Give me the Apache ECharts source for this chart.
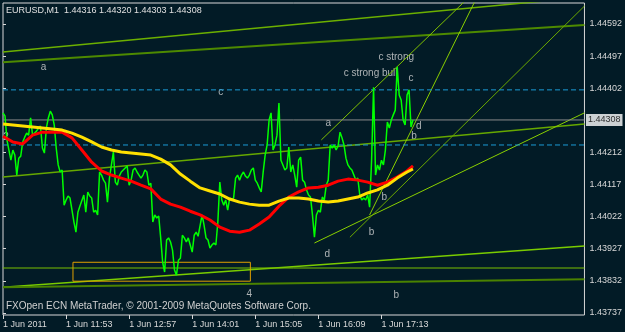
<!DOCTYPE html>
<html><head><meta charset="utf-8">
<style>html,body{margin:0;padding:0;background:#021b26;}#c{width:625px;height:332px;}</style>
<script src="https://cdn.jsdelivr.net/npm/echarts@6/dist/echarts.min.js"></script>
</head><body><div id="c"></div>
<script>
// ---------- data ----------
const symbolName = 'EURUSD,M1';
const lastBar = [1.44316, 1.44320, 1.44303, 1.44308];
const closeStepMinutes = 2;
const closes = [
1.44329,1.44320,1.44249,1.44219,1.44189,1.44219,1.44204,1.44145,1.44195,1.44201,
1.44243,1.44257,1.44269,1.44263,1.44314,1.44263,1.44269,1.44275,1.44284,1.44290,
1.44225,1.44210,1.44284,1.44314,1.44334,1.44323,1.44293,1.44225,1.44175,1.44154,
1.44160,1.44056,1.44071,1.44083,1.44077,1.44080,1.44006,1.43976,1.44035,1.44053,
1.44056,1.44086,1.44035,1.44095,1.44083,1.44077,1.44035,1.44041,1.44027,1.44154,
1.44145,1.44130,1.44121,1.44065,1.44136,1.44175,1.44213,1.44124,1.44115,1.44142,
1.44154,1.44160,1.44166,1.44172,1.44115,1.44130,1.44160,1.44166,1.44154,1.44145,
1.44136,1.44145,1.44160,1.44154,1.44115,1.44121,1.44006,1.44027,1.44018,1.44024,
1.43959,1.43887,1.43858,1.43953,1.43959,1.43947,1.43923,1.43864,1.43849,1.43893,
1.43899,1.43967,1.43959,1.43947,1.43959,1.43938,1.43917,1.43967,1.43976,1.43964,
1.43967,
1.44027,1.43997,1.43959,1.43953,1.43929,1.43938,1.43944,1.43938,1.44006,
1.44124,1.44071,1.44056,1.44071,1.44041,1.44077,1.44071,1.44077,1.44136,1.44145,
1.44130,1.44145,1.44154,1.44142,1.44136,1.44145,1.44160,1.44166,1.44130,1.44121,
1.44107,1.44095,1.44154,1.44204,1.44234,1.44308,1.44329,1.44219,1.44234,1.44263,
1.44358,1.44189,1.44175,1.44160,1.44166,1.44228,1.44154,1.44175,1.44145,1.44109,
1.44189,1.44198,1.44130,1.44124,1.44101,1.44086,1.44080,1.44027,1.43961,1.44027,
1.44041,1.44035,1.44080,1.44071,1.44115,1.44130,1.44234,1.44225,1.44234,1.44219,
1.44231,1.44272,1.44255,1.44234,1.44195,1.44175,1.44166,
1.44160,
1.44145,1.44130,1.44136,1.44086,1.44071,1.44077,1.44071,1.44086,1.44050,1.44189,
1.44405,1.44145,1.44175,1.44160,1.44189,1.44175,1.44219,1.44302,1.44284,1.44308,
1.44323,1.44337,1.44465,1.44382,1.44367,1.44308,1.44293,1.44382,1.44397,1.44287,
1.44308
];
const maTimes = [0,10,20,30,40,50,60,70,80,90,100,110,120,130,140,150,160,170,180,190,200,
  210,220,230,240,250,260,270,280,290,300,310,320,330,340,350,360,370,380,390,400,410,416];
const redMA = [1.44260,1.44243,1.44237,1.44263,1.44272,1.44272,1.44272,1.44255,1.44219,1.44183,
  1.44157,1.44145,1.44136,1.44127,1.44115,1.44104,1.44074,1.44059,1.44050,1.44038,
  1.44027,1.44012,1.43991,1.43979,1.43976,1.43982,1.44000,1.44021,1.44053,1.44080,
  1.44095,1.44107,1.44109,1.44115,1.44127,1.44133,1.44130,1.44124,1.44115,1.44124,
  1.44139,1.44157,1.44172];
const yellowMA = [1.44296,1.44293,1.44290,1.44287,1.44284,1.44281,1.44278,1.44269,1.44257,1.44243,
  1.44228,1.44219,1.44213,1.44210,1.44207,1.44204,1.44192,1.44175,1.44148,1.44127,
  1.44107,1.44098,1.44089,1.44074,1.44065,1.44059,1.44056,1.44056,1.44068,1.44077,
  1.44077,1.44074,1.44068,1.44065,1.44068,1.44074,1.44080,1.44092,1.44101,1.44115,
  1.44136,1.44154,1.44163];
const timeTicks = [0,64,128,192,256,320,384];
const timeLabels = ['1 Jun 2011','1 Jun 11:53','1 Jun 12:57','1 Jun 14:01','1 Jun 15:05','1 Jun 16:09','1 Jun 17:13'];
const priceTicks = [1.43737,1.43832,1.43927,1.44022,1.44117,1.44212,1.44402,1.44497,1.44592];
const levelPrices = [1.44397, 1.44234];
const axisStartMinute = 0;
const axisEndMinute = 590;
// [startMinute, startPrice, endMinute, endPrice]
const trendLines = [
  [0,1.44509,590,1.44671],
  [0,1.44479,590,1.44589],
  [0,1.44139,590,1.44296],
  [0,1.43813,590,1.43935],
  [0,1.43870,590,1.43870],
  [0,1.43813,590,1.43837],
  [316,1.43944,590,1.44329],
  [323,1.44249,471,1.44666],
  [372,1.44027,481,1.44672],
  [352,1.43961,590,1.44645]
];
const boxTimes = [71, 251];
const boxPrices = [1.43831, 1.43887];
const noteTexts = ['a','c','c strong bull','c strong','c','d','b','a','b','b','d','4','b','2'];
const noteTimes = [41,221,373,399,414,422,417,330,387,374,329,250,399,3];
const notePrices = [1.44465,1.44391,1.44447,1.44494,1.44432,1.44290,1.44260,1.44299,1.44080,1.43976,1.43911,1.43793,1.43790,1.44257];
const copyright = 'FXOpen ECN MetaTrader, \u00a9 2001-2009 MetaQuotes Software Corp.';

// ---------- styles ----------
const trendStyles = [
  {c:'#6cb000',w:1.5},{c:'#4d8a00',w:2},{c:'#66a800',w:1.5},{c:'#7acc00',w:1.5},{c:'#78c000',w:1},
  {c:'#4a8200',w:2},{c:'#8ad000',w:1},{c:'#7fc000',w:1},{c:'#8ad000',w:1},{c:'#6aa800',w:1}
];
const FONT = 'Liberation Sans';
const lastClose = closes[closes.length - 1];

const series = [];
trendLines.forEach((t, i) => {
  series.push({type:'line', silent:true, symbol:'none', clip:true,
    data:[[t[0],t[1]],[t[2],t[3]]],
    lineStyle:{color:trendStyles[i].c, width:trendStyles[i].w}});
});
series.push({type:'line', silent:true, symbol:'none', clip:true,
  data:[[boxTimes[0],boxPrices[0]],[boxTimes[1],boxPrices[0]],[boxTimes[1],boxPrices[1]],[boxTimes[0],boxPrices[1]],[boxTimes[0],boxPrices[0]]],
  lineStyle:{color:'#e0a000', width:1}});
levelPrices.forEach(p => {
  series.push({type:'line', silent:true, symbol:'none',
    data:[[axisStartMinute,p],[axisEndMinute,p]],
    lineStyle:{color:'#1b9bd6', width:1, type:[5,3]}});
});
series.push({type:'line', silent:true, symbol:'none',
  data:[[axisStartMinute,lastClose],[axisEndMinute,lastClose]],
  lineStyle:{color:'#8a8a8a', width:1}});
series.push({type:'line', silent:true, symbol:'none', clip:true,
  data: closes.map((c,i) => [i*closeStepMinutes, c]),
  lineStyle:{color:'#00ff00', width:1.5}});
series.push({type:'line', silent:true, symbol:'none', data: maTimes.map((t,i)=>[t, redMA[i]]),
  lineStyle:{color:'#ff0000', width:3}});
series.push({type:'line', silent:true, symbol:'none', data: maTimes.map((t,i)=>[t, yellowMA[i]]),
  lineStyle:{color:'#ffe000', width:3}});
series.push({type:'scatter', silent:true, symbolSize:1, itemStyle:{color:'rgba(0,0,0,0)'},
  data: noteTimes.map((t,i)=>[t, notePrices[i]]),
  label:{show:true, position:'inside', formatter:p=>noteTexts[p.dataIndex], color:'#d8d8d8', fontSize:10, fontFamily:FONT}});
series.push({type:'scatter', silent:true, symbolSize:1, clip:false, itemStyle:{color:'rgba(0,0,0,0)'},
  data:[[axisEndMinute, lastClose]],
  label:{show:true, position:'right', distance:1, formatter:()=>lastClose.toFixed(5),
    backgroundColor:'#ffffff', color:'#000000', fontSize:9, fontFamily:FONT, padding:[2,2,1,2]}});

const chart = echarts.init(document.getElementById('c'), null, {renderer:'canvas'});
chart.setOption({
  animation:false,
  backgroundColor:'#021b26',
  textStyle:{fontFamily:FONT},
  grid:{left:3, right:37, top:3, bottom:17, show:true, borderColor:'#d8d8d8', borderWidth:1, backgroundColor:'transparent'},
  xAxis:{type:'value', min:axisStartMinute, max:axisEndMinute,
    axisLine:{show:false}, splitLine:{show:false},
    axisTick:{show:true, customValues:timeTicks, length:4, lineStyle:{color:'#d8d8d8'}},
    axisLabel:{customValues:timeTicks, formatter:v=>timeLabels[timeTicks.indexOf(v)], align:'left', margin:5,
      color:'#d8d8d8', fontSize:9, fontFamily:FONT}},
  yAxis:{type:'value', position:'right', min:1.43731, max:1.44654, scale:true,
    axisLine:{show:false}, splitLine:{show:false},
    axisTick:{show:true, customValues:priceTicks, length:3, lineStyle:{color:'#d8d8d8'}},
    axisLabel:{customValues:priceTicks, formatter:v=>v.toFixed(5), margin:5, color:'#d8d8d8', fontSize:9, fontFamily:FONT}},
  graphic:[
    {type:'text', left:6, top:6, silent:true, style:{text: symbolName + '  ' + lastBar.map(v=>v.toFixed(5)).join(' '), fill:'#e0e0e0', font:'9px "Liberation Sans"'}},
    {type:'text', left:6, top:301, silent:true, style:{text: copyright, fill:'#d0d0d0', font:'10px "Liberation Sans"'}}
  ],
  series: series
});
</script></body></html>
